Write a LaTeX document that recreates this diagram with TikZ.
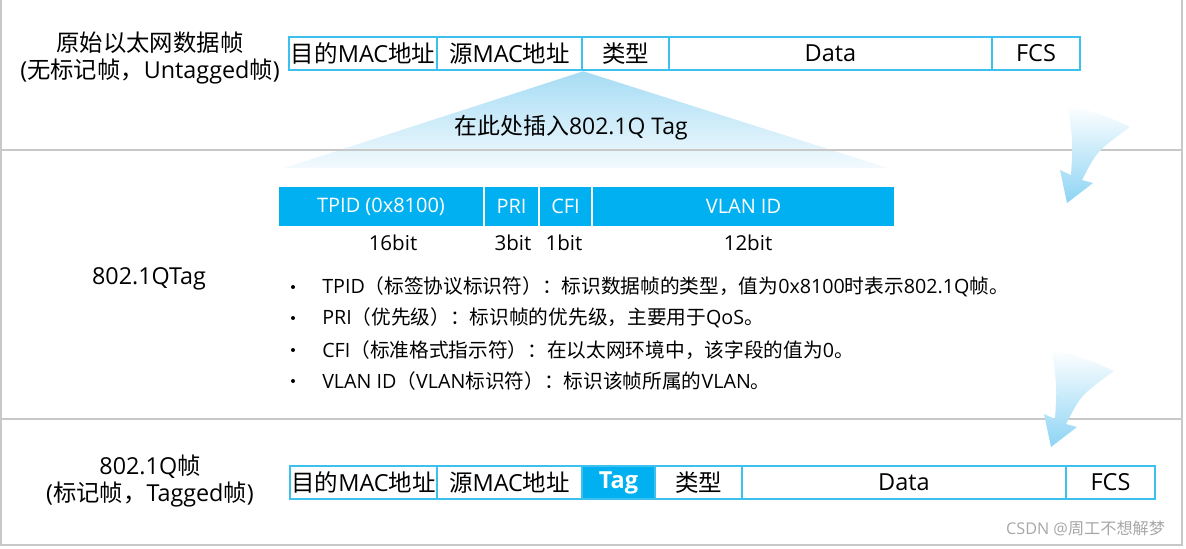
\documentclass[tikz,border=0pt]{standalone}
\usepackage{fontspec}
\setmainfont{Open Sans}
\newfontfamily\cjkfont{Noto Sans CJK SC}
\usetikzlibrary{positioning}
\definecolor{tagblue}{HTML}{00B0F0}
\definecolor{fieldline}{HTML}{3CC1EE}
\definecolor{tritop}{HTML}{A6DCF4}
\definecolor{tribot}{HTML}{F3FAFE}
\definecolor{arrowblue}{HTML}{8DD4F4}
\definecolor{sepgray}{HTML}{C8C8C8}

% switch to the CJK font for Chinese characters
\XeTeXinterchartokenstate=1
\newXeTeXintercharclass\cjkclass
\newcount\cjkidx
\newcommand\setcjkrange[2]{\cjkidx=#1 \loop\XeTeXcharclass\cjkidx=\cjkclass\ifnum\cjkidx<#2 \advance\cjkidx by 1 \repeat}
\setcjkrange{"3000}{"303F}
\setcjkrange{"4E00}{"9FFF}
\setcjkrange{"FF00}{"FFEF}
\XeTeXinterchartoks 0 \cjkclass = {\cjkfont}
\XeTeXinterchartoks 4095 \cjkclass = {\cjkfont}
\XeTeXinterchartoks \cjkclass 0 = {\rmfamily}
\XeTeXinterchartoks \cjkclass 4095 = {\rmfamily}

\begin{document}
\begin{tikzpicture}[x=0.025cm,y=-0.025cm,
  field/.style={draw=fieldline,line width=1.8pt,minimum height=33*0.025cm,inner sep=0pt,font=\fontsize{16.7}{19}\selectfont},
  tagfield/.style={field,fill=tagblue,text=white,font=\fontsize{16.7}{19}\selectfont\bfseries},
  tagcell/.style={fill=tagblue,text=white,minimum height=39*0.025cm,inner sep=0pt,font=\fontsize{14.2}{17}\selectfont},
  bitlbl/.style={font=\fontsize{14.6}{17}\selectfont},
  rowlbl/.style={align=center,font=\fontsize{16.6}{19.8}\selectfont},
  bullet/.style={circle,fill=black,inner sep=0pt,minimum size=4*0.025cm},
  desc/.style={anchor=west,inner sep=0pt,font=\fontsize{14}{16}\selectfont},
  bendarrow/.pic={
    \shade[top color=white,middle color=arrowblue!22,bottom color=arrowblue]
      (0,0) -- (-7,-33) -- (4,-28) .. controls (6,-60) .. (1,-98)
      .. controls (25,-92) and (45,-85) .. (63,-76)
      .. controls (30,-52) .. (15,-23) -- (26,-20) -- cycle;
  }]

\useasboundingbox (0,0) rectangle (1186,548);

% original frame
\node[rowlbl] (untag) at (150,58) {原始以太网数据帧\\(无标记帧，Untagged帧)};
\foreach \l/\r/\n/\t in {289/437/dst/目的MAC地址, 437/582/src/源MAC地址, 582/669/type/类型, 669/992/data/Data, 992/1080/fcs/FCS}
{
  \node[field,minimum width={(\r-\l)*0.025cm}] (u\n) at ({(\l+\r)/2},53.5) {\t};
}

% insert wedge
\shade[top color=tritop,bottom color=tribot] (usrc.south east) -- (888,168) -- (284,168) -- cycle;
\node[font=\fontsize{16.3}{19}\selectfont] (ins) at (571,128) {在此处插入802.1Q Tag};

% separators
\draw[sepgray,line width=0.8pt] (1,0) -- (1,545) -- (1182,545) -- (1182,0);
\draw[sepgray,line width=0.8pt] (1,150) -- (1182,150);
\draw[sepgray,line width=0.8pt] (1,419) -- (1182,419);

% tag fields
\node[rowlbl] (qtag) at (149,279) {802.1QTag};
\foreach \l/\r/\n/\t in {279/483/tpid/TPID (0x8100), 485/538/pri/PRI, 540/591/cfi/CFI, 593/894/vid/VLAN ID}
{
  \node[tagcell,minimum width={(\r-\l)*0.025cm}] (\n) at ({(\l+\r)/2},206.5) {\t};
}
\foreach \x/\n/\t in {393/tpid/16bit, 513/pri/3bit, 564/cfi/1bit, 748/vid/12bit}
{
  \node[bitlbl] (b\n) at (\x,243) {\t};
}

% field descriptions
\foreach \y/\t [count=\i] in {287/{TPID（标签协议标识符）：标识数据帧的类型，值为0x8100时表示802.1Q帧。},
  318/{PRI（优先级）：标识帧的优先级，主要用于QoS。},
  350/{CFI（标准格式指示符）：在以太网环境中，该字段的值为0。},
  381/{VLAN ID（VLAN标识符）：标识该帧所属的VLAN。}}
{
  \node[bullet] (dot\i) at (293,\y) {};
  \node[desc] (desc\i) at (322,\y) {\t};
}

% tagged frame
\node[rowlbl] (tagd) at (150,481) {802.1Q帧\\(标记帧，Tagged帧)};
\foreach \l/\r/\n/\t in {290/437/dst/目的MAC地址, 437/582/src/源MAC地址, 655/742/type/类型, 742/1066/data/Data, 1066/1155/fcs/FCS}
{
  \node[field,minimum width={(\r-\l)*0.025cm}] (t\n) at ({(\l+\r)/2},482.5) {\t};
}
\node[tagfield,minimum width=73*0.025cm] (ttag) at (618.5,482.5) {Tag};

% arrows
\pic at (1067,203) {bendarrow};
\pic at (1051,447) {bendarrow};

\node[anchor=east,text=gray!70,font=\fontsize{11.5}{14}\selectfont] (mark) at (1170,528) {CSDN @周工不想解梦};

\end{tikzpicture}
\end{document}
